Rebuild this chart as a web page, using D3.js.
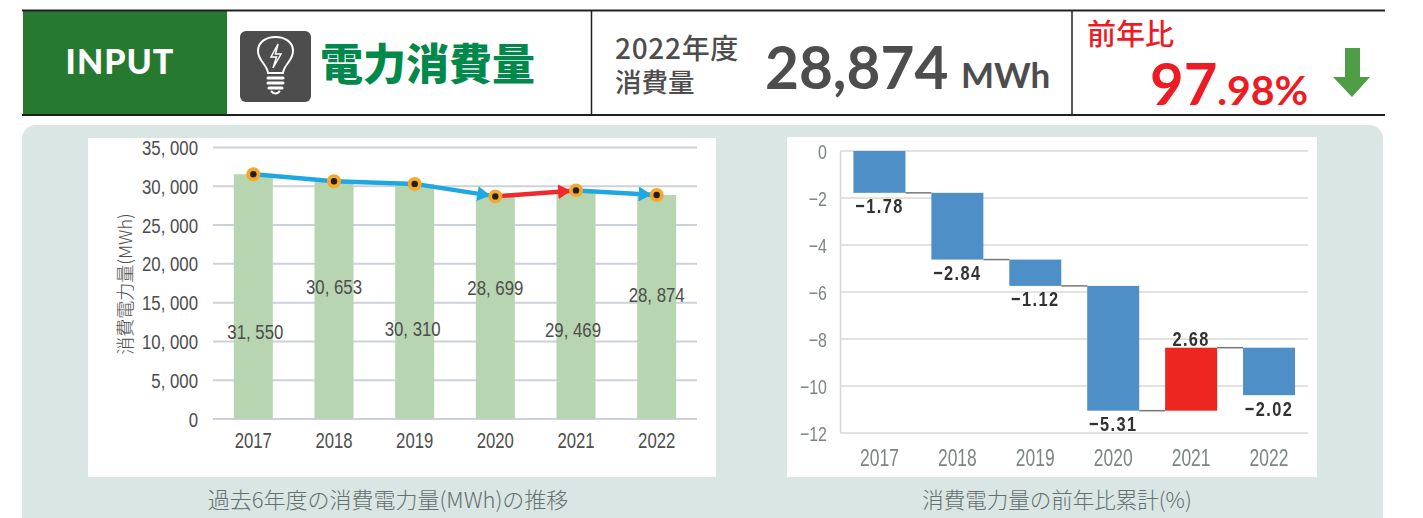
<!DOCTYPE html>
<html lang="ja">
<head>
<meta charset="utf-8">
<title>電力消費量</title>
<script src="https://cdn.jsdelivr.net/npm/d3@7"></script>
<style>
    html, body { margin: 0; padding: 0; background: #fff; overflow: hidden; }
    svg { display: block; }
    .narrow { font-family: "Liberation Sans", sans-serif; }
    .jp { font-family: "Noto Sans CJK JP", sans-serif; }
    .latin { font-family: Lato, "Open Sans", sans-serif; }
</style>
</head>
<body>
<svg id="chart" width="1423" height="518"></svg>
<script>
// Data
var years = ["2017", "2018", "2019", "2020", "2021", "2022"];
var usage = [31550, 30653, 30310, 28699, 29469, 28874];
var usageTicks = [0, 5000, 10000, 15000, 20000, 25000, 30000, 35000];
var changes = [-1.78, -2.84, -1.12, -5.31, 2.68, -2.02];
var changeTicks = [0, -2, -4, -6, -8, -10, -12];

// Where the value labels sit inside the bars (value axis units), they are staggered by hand
var labelLevels = [11300, 17100, 11700, 17000, 11500, 16000];
// and their sideways nudge in pixels
var labelShift = [2, 0, -2, 0, -3, 0];

var svg = d3.select("#chart");
var grey = "#4d4d4d", red = "#ed1c24", blue = "#1fa8e0";

// No condensed font is installed, so squeeze the labels sideways
function squeeze(sel, fx, fy, amount) {
    sel.attr("transform", function (d, i) {
        return "translate(" + fx(d, i) + "," + fy(d, i) + ") scale(" + amount + ",1)";
    });
    return sel;
}

// ---- header strip ----
var header = svg.append("g");
header.append("rect").attr("x", 23).attr("y", 11).attr("width", 204).attr("height", 103).attr("fill", "#267a30");
[10.5, 115].forEach(function (y) {
    header.append("line").attr("x1", 22).attr("x2", 1385).attr("y1", y).attr("y2", y)
        .attr("stroke", "#231f20").attr("stroke-width", 2);
});
[591.5, 1072].forEach(function (x) {
    header.append("line").attr("x1", x).attr("x2", x).attr("y1", 11).attr("y2", 114)
        .attr("stroke", "#231f20").attr("stroke-width", 1.5);
});

function headerText(x, y, size, weight, color, cls, str, anchor) {
    return header.append("text").attr("x", x).attr("y", y).attr("class", cls)
        .attr("font-size", size).attr("font-weight", weight).attr("fill", color)
        .attr("text-anchor", anchor || "start").text(str);
}

headerText(120, 74, 34, 900, "#fff", "latin", "INPUT", "middle").attr("letter-spacing", 1);

// bulb icon
var icon = header.append("g").attr("transform", "translate(240,31)");
icon.append("rect").attr("width", 71).attr("height", 71).attr("rx", 6).attr("fill", "#4d4d4d");
icon.append("path")
    .attr("d", "M28 42 C27 33 18 30 18 20 C18 11 26 6 35.5 6 C45 6 53 11 53 20 C53 30 44 33 43 42 Z")
    .attr("fill", "none").attr("stroke", "#fff").attr("stroke-width", 2);
icon.append("path").attr("d", "M38 13 L31 26 L36.5 26 L33 37 L41 23 L35.5 23 Z").attr("fill", "none")
    .attr("stroke", "#fff").attr("stroke-width", 1.5);
icon.append("path").attr("d", "M28 47 H43 M28 52 H43 M29 57 H42").attr("stroke", "#fff")
    .attr("stroke-width", 3).attr("stroke-linecap", "round");
icon.append("path").attr("d", "M31 60 Q35.5 65 40 60").attr("fill", "none").attr("stroke", "#fff").attr("stroke-width", 2);

headerText(320, 80, 43, 900, "#00894b", "jp", "電力消費量");
headerText(615, 59, 28, 500, grey, "jp", "2022年度").attr("letter-spacing", 0.7);
headerText(615, 92, 26.5, 500, grey, "jp", "消費量");
headerText(765, 89, 58.5, 700, grey, "latin", "28,874");
headerText(961, 88, 35, 700, grey, "latin", "MWh");
headerText(1087, 45, 29, 500, red, "jp", "前年比");
var pct = headerText(1150, 105, 58, 700, red, "latin", "97");
pct.append("tspan").attr("font-size", 41).text(".98%");
header.append("path")
    .attr("d", "M1345 48 H1360 V77 H1370 L1352 97 L1333 77 H1345 Z")
    .attr("fill", "#4f9d47");

// ---- background panels ----
svg.append("rect").attr("x", 22).attr("y", 125).attr("width", 1361).attr("height", 410).attr("rx", 14).attr("fill", "#d9e6e4");
svg.append("rect").attr("x", 88).attr("y", 138).attr("width", 628).attr("height", 339).attr("fill", "#fff");
svg.append("rect").attr("x", 787).attr("y", 137).attr("width", 530).attr("height", 340).attr("fill", "#fff");

svg.append("text").attr("class", "jp").attr("x", 388).attr("y", 508).attr("text-anchor", "middle")
    .attr("font-size", 22).attr("font-weight", 300).attr("fill", "#66706f").text("過去6年度の消費電力量(MWh)の推移");
svg.append("text").attr("class", "jp").attr("x", 1057).attr("y", 508).attr("text-anchor", "middle")
    .attr("font-size", 21.5).attr("font-weight", 300).attr("fill", "#66706f").text("消費電力量の前年比累計(%)");

// ---- left chart: usage per year ----
var xLeft = d3.scaleBand().domain(years).range([213, 697]);
var yLeft = d3.scaleLinear().domain([0, 35000]).range([419, 147.5]);
var barWidth = 39;
var left = svg.append("g");

function thousands(v) { return d3.format(",")(v).replace(",", ", "); }
function midLeft(i) { return xLeft(years[i]) + xLeft.bandwidth() / 2; }

left.selectAll(".grid").data(usageTicks).enter().append("line")
    .attr("class", "grid")
    .attr("x1", xLeft.range()[0]).attr("x2", xLeft.range()[1])
    .attr("y1", yLeft).attr("y2", yLeft)
    .attr("stroke", "#ccd2da").attr("stroke-width", 2);

left.selectAll(".bar").data(usage).enter().append("rect")
    .attr("class", "bar")
    .attr("x", function (d, i) { return midLeft(i) - barWidth / 2; })
    .attr("width", barWidth)
    .attr("y", yLeft)
    .attr("height", function (d) { return yLeft(0) - yLeft(d); })
    .attr("fill", "#b7d5b0");

left.selectAll(".ytick").data(usageTicks).enter().append("text")
    .attr("class", "ytick narrow")
    .attr("dy", "0.36em")
    .attr("text-anchor", "end").attr("font-size", 21).attr("fill", grey)
    .text(thousands)
    .call(squeeze, function () { return 198; }, yLeft, 0.8);

left.selectAll(".xtick").data(years).enter().append("text")
    .attr("class", "xtick narrow")
    .attr("text-anchor", "middle").attr("font-size", 22).attr("fill", grey)
    .text(function (d) { return d; })
    .call(squeeze, function (d, i) { return midLeft(i); }, function () { return 448; }, 0.76);

left.append("text").attr("class", "jp")
    .attr("transform", "translate(132,284) rotate(-90)")
    .attr("text-anchor", "middle").attr("font-size", 18).attr("font-weight", 300).attr("fill", grey)
    .text("消費電力量(MWh)");

left.selectAll(".value").data(usage).enter().append("text")
    .attr("class", "value narrow")
    .attr("dy", "0.36em")
    .attr("text-anchor", "middle").attr("font-size", 21).attr("fill", grey)
    .text(thousands)
    .call(squeeze, function (d, i) { return midLeft(i) + labelShift[i]; }, function (d, i) { return yLeft(labelLevels[i]); }, 0.8);

// trend arrows: blue for falling, red for rising
var defs = svg.append("defs");
[["headBlue", blue], ["headRed", "#ee2a2e"]].forEach(function (m) {
    defs.append("marker").attr("id", m[0]).attr("viewBox", "0 0 10 10")
        .attr("refX", 10).attr("refY", 5)
        .attr("markerUnits", "userSpaceOnUse").attr("markerWidth", 13).attr("markerHeight", 15)
        .attr("orient", "auto")
        .attr("preserveAspectRatio", "none")
        .append("path").attr("d", "M0 0 L10 5 L0 10 Z").attr("fill", m[1]);
});
// slight softening for the scanned-looking right chart
defs.append("filter").attr("id", "soft")
    .append("feGaussianBlur").attr("stdDeviation", 0.45);

var lineGen = d3.line()
    .x(function (i) { return midLeft(i); })
    .y(function (i) { return yLeft(usage[i]); });

var runs = [[0, 1, 2, 3], [3, 4], [4, 5]];
runs.forEach(function (run) {
    var rising = usage[run[run.length - 1]] > usage[run[0]];
    var colour = rising ? "#ee2a2e" : blue;
    var path = left.append("path").datum(run)
        .attr("d", lineGen)
        .attr("fill", "none")
        .attr("stroke", colour)
        .attr("stroke-width", 4.5);
    // stop the arrow at the edge of the marker dot
    var len = path.node().getTotalLength();
    var end = path.node().getPointAtLength(len - 5);
    var prev = path.node().getPointAtLength(len - 10);
    left.append("path")
        .attr("d", "M" + prev.x + " " + prev.y + "L" + end.x + " " + end.y)
        .attr("stroke", colour).attr("stroke-width", 1)
        .attr("marker-end", "url(#" + (rising ? "headRed" : "headBlue") + ")");
});

left.selectAll(".dot").data(usage).enter().append("circle")
    .attr("class", "dot")
    .attr("cx", function (d, i) { return midLeft(i); }).attr("cy", yLeft)
    .attr("r", 7).attr("fill", "#f5a82a");
left.selectAll(".dotInner").data(usage).enter().append("circle")
    .attr("class", "dotInner")
    .attr("cx", function (d, i) { return midLeft(i); }).attr("cy", yLeft)
    .attr("r", 3.2).attr("fill", "#231f20");

// ---- right chart: cumulative change (waterfall) ----
var xRight = d3.scaleBand().domain(years).range([840.5, 1308]);
var yRight = d3.scaleLinear().domain([0, -12]).range([151, 433]);
var stepWidth = 52;
var right = svg.append("g").attr("filter", "url(#soft)");

// running total gives each block its start and end
var total = 0;
var steps = changes.map(function (d, i) {
    var start = total;
    total += d;
    return { year: years[i], change: d, start: start, end: total };
});
function midRight(d) { return xRight(d.year) + xRight.bandwidth() / 2; }

right.selectAll(".grid").data(changeTicks).enter().append("line")
    .attr("class", "grid")
    .attr("x1", xRight.range()[0]).attr("x2", xRight.range()[1])
    .attr("y1", yRight).attr("y2", yRight)
    .attr("stroke", "#d8d8d8").attr("stroke-width", 1.5);
right.append("line")
    .attr("x1", 840.5).attr("x2", 840.5).attr("y1", yRight(0)).attr("y2", yRight(-12))
    .attr("stroke", "#d5d5d5").attr("stroke-width", 1.5);

right.selectAll(".ytick").data(changeTicks).enter().append("text")
    .attr("class", "ytick narrow")
    .attr("dy", "0.36em")
    .attr("text-anchor", "end").attr("font-size", 21).attr("fill", "#7d8484")
    .text(function (d) { return d < 0 ? "−" + (-d) : d; })
    .call(squeeze, function () { return 827; }, yRight, 0.76);

right.selectAll(".xtick").data(years).enter().append("text")
    .attr("class", "xtick narrow")
    .attr("text-anchor", "middle").attr("font-size", 23).attr("fill", "#7d8484")
    .text(function (d) { return d; })
    .call(squeeze, function (d) { return xRight(d) + xRight.bandwidth() / 2; }, function () { return 466; }, 0.76);

right.selectAll(".link").data(steps.slice(0, -1)).enter().append("line")
    .attr("class", "link")
    .attr("x1", function (d) { return midRight(d) + stepWidth / 2; })
    .attr("x2", function (d) { return midRight(d) + xRight.bandwidth() - stepWidth / 2; })
    .attr("y1", function (d) { return yRight(d.end); })
    .attr("y2", function (d) { return yRight(d.end); })
    .attr("stroke", "#777").attr("stroke-width", 1.5);

right.selectAll(".bar").data(steps).enter().append("rect")
    .attr("class", "bar")
    .attr("x", function (d) { return midRight(d) - stepWidth / 2; })
    .attr("width", stepWidth)
    .attr("y", function (d) { return yRight(Math.max(d.start, d.end)); })
    .attr("height", function (d) { return Math.abs(yRight(d.end) - yRight(d.start)); })
    .attr("fill", function (d) { return d.change > 0 ? "#ee2524" : "#4f8fc8"; });

right.selectAll(".value").data(steps).enter().append("text")
    .attr("class", "value narrow")
    .attr("dy", "0.36em")
    .attr("text-anchor", "middle").attr("font-size", 21).attr("font-weight", 700)
    .attr("letter-spacing", 1.8).attr("fill", "#333")
    .text(function (d) { return (d.change < 0 ? "−" : "") + Math.abs(d.change).toFixed(2); })
    .call(squeeze, midRight, function (d) { return yRight(d.end) + (d.change > 0 ? -9 : 13); }, 0.78);
</script>
</body>
</html>
